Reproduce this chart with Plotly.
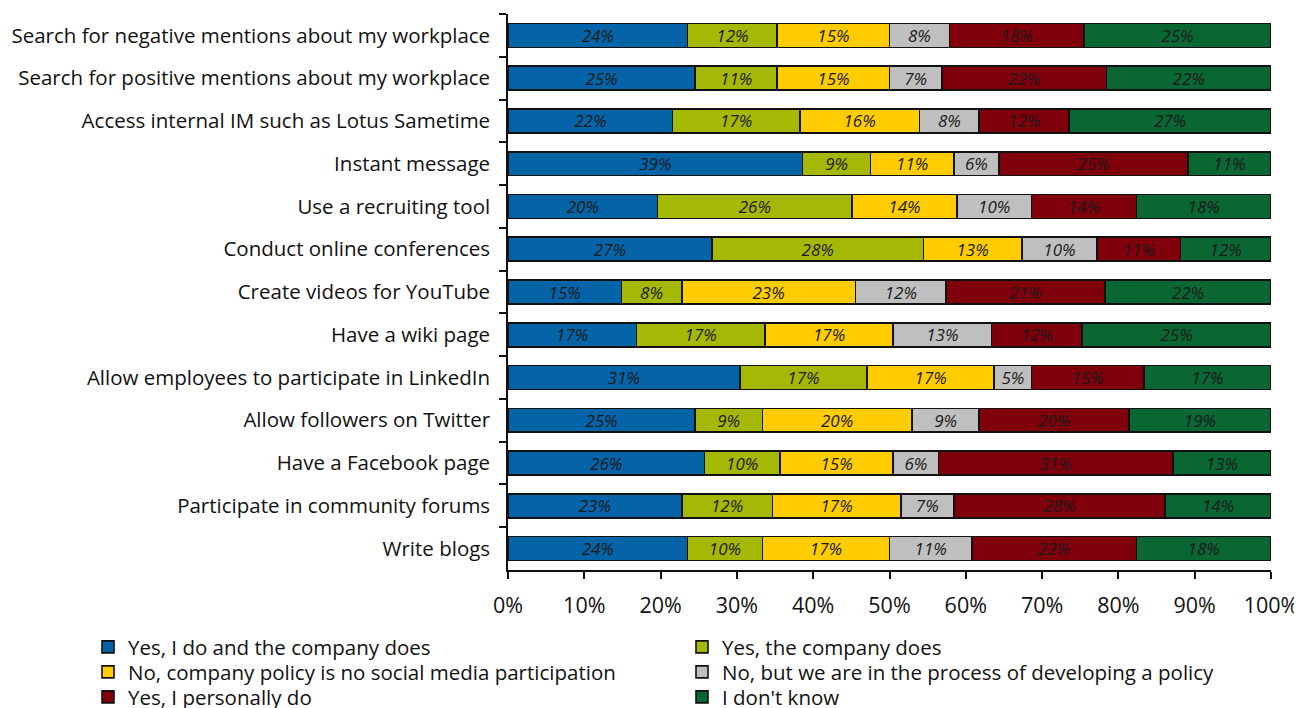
import plotly.graph_objects as go

categories = [
    "Search for negative mentions about my workplace",
    "Search for positive mentions about my workplace",
    "Access internal IM such as Lotus Sametime",
    "Instant message",
    "Use a recruiting tool",
    "Conduct online conferences",
    "Create videos for YouTube",
    "Have a wiki page",
    "Allow employees to participate in LinkedIn",
    "Allow followers on Twitter",
    "Have a Facebook page",
    "Participate in community forums",
    "Write blogs",
]

series_names = [
    "Yes, I do and the company does",
    "Yes, the company does",
    "No, company policy is no social media participation",
    "No, but we are in the process of developing a policy",
    "Yes, I personally do",
    "I don't know",
]

yes_both = [24, 25, 22, 39, 20, 27, 15, 17, 31, 25, 26, 23, 24]
yes_company = [12, 11, 17, 9, 26, 28, 8, 17, 17, 9, 10, 12, 10]
no_policy = [15, 15, 16, 11, 14, 13, 23, 17, 17, 20, 15, 17, 17]
no_developing = [8, 7, 8, 6, 10, 10, 12, 13, 5, 9, 6, 7, 11]
yes_personal = [18, 22, 12, 25, 14, 11, 21, 12, 15, 20, 31, 28, 22]
dont_know = [25, 22, 27, 11, 18, 12, 22, 25, 17, 19, 13, 14, 18]

x_tick_vals = [0, 10, 20, 30, 40, 50, 60, 70, 80, 90, 100]
x_tick_text = ["0%", "10%", "20%", "30%", "40%", "50%", "60%", "70%", "80%", "90%", "100%"]

series_values = [yes_both, yes_company, no_policy, no_developing, yes_personal, dont_know]
colors = ["#0563A8", "#A5B805", "#FFCC00", "#BFBFBF", "#7F000B", "#0A6633"]
legend_ids = ["legend", "legend2", "legend3", "legend4", "legend5", "legend6"]

FONT = "Open Sans"
# the page body has an 8px margin; the figure starts 8px in from the window edge
OFF = 8
W, H = 1302 - OFF, 708 - OFF

fig = go.Figure()
for name, vals, col, lg in zip(series_names, series_values, colors, legend_ids):
    fig.add_trace(go.Bar(
        y=categories,
        x=vals,
        name=name,
        orientation="h",
        marker=dict(color=col, line=dict(color="#111111", width=1.6)),
        text=[f"{v}%" for v in vals],
        textposition="inside",
        insidetextanchor="middle",
        textangle=0,
        constraintext="none",
        textfont=dict(family=FONT, size=17, color="#1a1a1a", style="italic"),
        width=0.56,
        legend=lg,
        showlegend=True,
        hoverinfo="skip",
    ))

# legend slot positions (window pixels): two columns, three rows
col_x = [88, 682]
row_y = [647, 672, 697]
legend_layout = {}
for i, lg in enumerate(legend_ids):
    cx = col_x[i % 2] - OFF
    ry = row_y[i // 2] - OFF
    legend_layout[lg] = dict(
        xref="container", yref="container",
        x=cx / W, xanchor="left",
        y=1 - ry / H, yanchor="middle",
        orientation="v", font=dict(family=FONT, size=20.5, color="#111111"),
        itemwidth=30, bgcolor="rgba(0,0,0,0)", borderwidth=0,
        visible=True,
    )

fig.update_layout(
    barmode="stack",
    barnorm="percent",
    width=W,
    height=H,
    showlegend=True,
    margin=dict(l=508 - OFF, r=W - (1271 - OFF), t=14 - OFF, b=H - (570 - OFF), autoexpand=False),
    plot_bgcolor="white",
    paper_bgcolor="white",
    font=dict(family=FONT, size=20.5, color="#111111"),
    xaxis=dict(
        range=[0, 100],
        tickvals=x_tick_vals,
        ticktext=x_tick_text,
        showgrid=False,
        zeroline=False,
        showline=True,
        linecolor="#111111",
        linewidth=1.5,
        ticks="outside",
        ticklen=7,
        tickwidth=1.5,
        tickcolor="#111111",
        tickfont=dict(size=21.5),
        ticklabelstandoff=8,
    ),
    yaxis=dict(
        autorange="reversed",
        showgrid=False,
        showline=True,
        linecolor="#111111",
        linewidth=1.5,
        ticks="outside",
        tickson="boundaries",
        ticklen=7,
        tickwidth=1.5,
        tickcolor="#111111",
        tickfont=dict(size=20.5),
        ticklabelstandoff=12,
    ),
    **legend_layout,
)

fig.write_html("out.html")
